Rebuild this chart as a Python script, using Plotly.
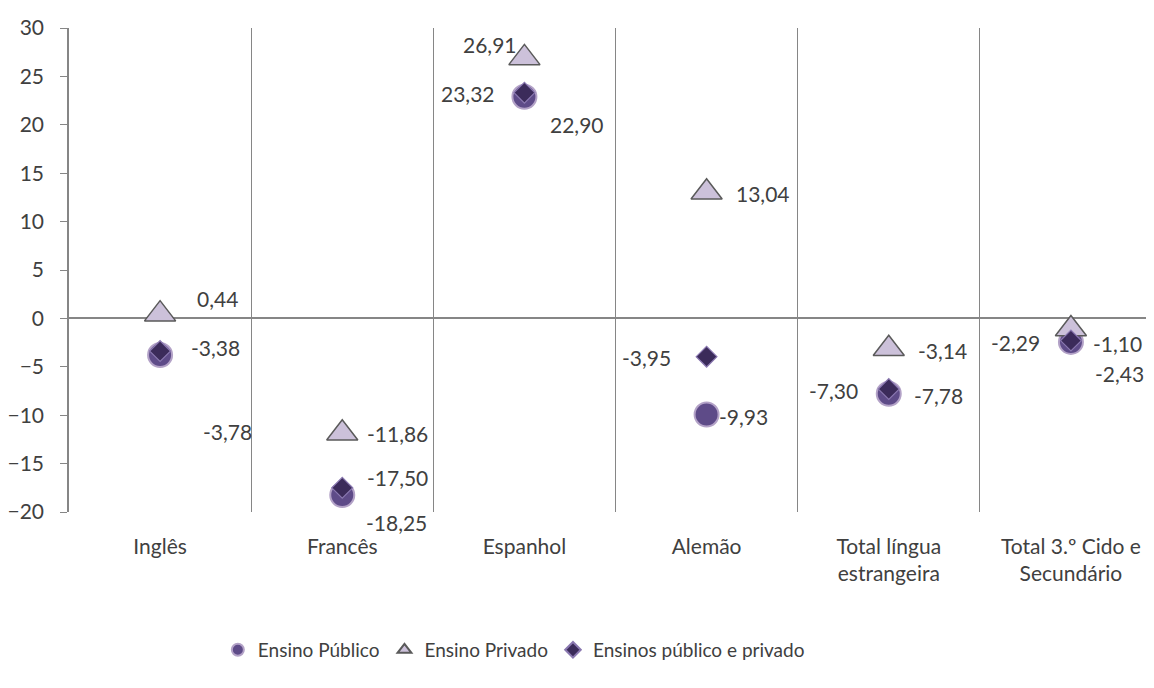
import plotly.graph_objects as go

categories = ["Inglês", "Francês", "Espanhol", "Alemão",
              "Total língua<br>estrangeira", "Total 3.º Cido e<br>Secundário"]
publico = [-3.78, -18.25, 22.90, -9.93, -7.78, -2.43]
privado = [0.44, -11.86, 26.91, 13.04, -3.14, -1.10]
ambos = [-3.38, -17.50, 23.32, -3.95, -7.30, -2.29]
series_names = ["Ensino Público", "Ensino Privado", "Ensinos público e privado"]
y_ticks = [30, 25, 20, 15, 10, 5, 0, -5, -10, -15, -20]

# label offsets in pixels (dx, dy-down) for each series
off_pub = [(67, 77), (54, 27), (53, 28), (37, 2), (50, 2), (49, 32)]
off_priv = [(57, -16), (55, 0), (-34, -13), (56, 1), (54, 2), (47, 14)]
off_amb = [(55, -4), (55, -10), (-56, 1), (-60, 1), (-55, 1), (-55, 2)]

FONT = "Lato, 'Open Sans', sans-serif"
TXT = "#404040"
GRID = "#868686"

fig = go.Figure()
fig.add_trace(go.Scatter(
    x=categories, y=publico, mode="markers", name=series_names[0],
    marker=dict(symbol="circle", size=24, color="#5e4b88",
                line=dict(color="#b3a2c7", width=2))))
fig.add_trace(go.Scatter(
    x=categories, y=privado, mode="markers", name=series_names[1],
    marker=dict(symbol="triangle-up", size=27, color="#ccc1da",
                line=dict(color="#5a5a5a", width=1.5))))
fig.add_trace(go.Scatter(
    x=categories, y=ambos, mode="markers", name=series_names[2],
    marker=dict(symbol="diamond", size=16, color="#3b2b5a",
                line=dict(color="#8a78b0", width=1.2))))


def fmt(v):
    return f"{v:.2f}".replace(".", ",")


for vals, offs in ((publico, off_pub), (privado, off_priv), (ambos, off_amb)):
    for c, v, (dx, dy) in zip(categories, vals, offs):
        fig.add_annotation(x=c, y=v, xref="x", yref="y", text=fmt(v),
                           showarrow=False, xshift=dx, yshift=-dy,
                           font=dict(family=FONT, size=21, color=TXT))

fig.update_layout(
    width=1146, height=680,
    margin=dict(l=56, r=0, t=20, b=176),
    paper_bgcolor="white", plot_bgcolor="white",
    font=dict(family=FONT, size=21, color=TXT),
    showlegend=True,
    legend=dict(orientation="h", x=0.41, xanchor="center", y=-0.285,
                yanchor="middle", font=dict(size=19, color=TXT),
                itemsizing="constant", itemwidth=30, tracegroupgap=0),
    xaxis=dict(type="category", range=[-0.5, 5.456], showgrid=True,
               gridcolor=GRID, gridwidth=1, tickson="boundaries",
               ticks="", ticklabelstandoff=20,
               showline=False, zeroline=False,
               tickfont=dict(size=21, color=TXT)),
    yaxis=dict(range=[-20, 30], tickvals=y_ticks, showgrid=False,
               zeroline=True, zerolinecolor=GRID, zerolinewidth=1.5,
               showline=True, linecolor=GRID, linewidth=1.5,
               ticks="outside", ticklen=7, tickcolor=GRID,
               ticklabelstandoff=12,
               tickfont=dict(size=21, color=TXT)),
)

fig.write_html("out.html")
